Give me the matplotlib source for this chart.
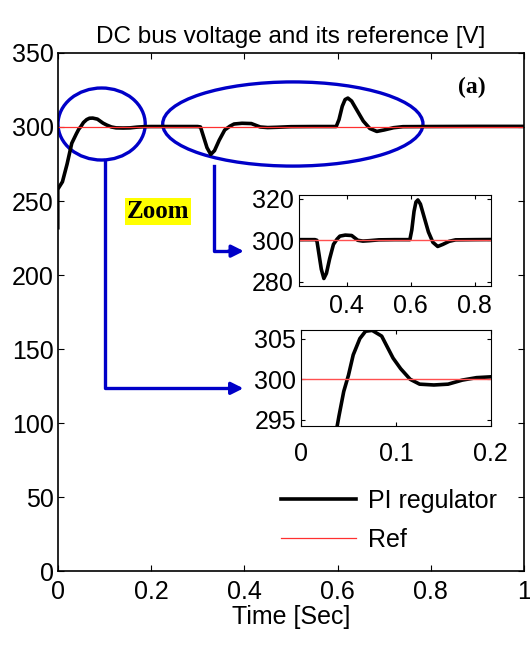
import matplotlib.pyplot as plt
from matplotlib.patches import Ellipse

plt.rcParams['font.family'] = ['Liberation Sans', 'DejaVu Sans']

# PI regulator response (time in s, voltage in V)
t_pi = [0.0, 0.0, 0.002, 0.01, 0.02, 0.03, 0.04, 0.045, 0.05, 0.055, 0.062, 0.068,
        0.075, 0.085, 0.097, 0.105, 0.115, 0.125, 0.14, 0.155, 0.17, 0.185, 0.2,
        0.25, 0.3, 0.306, 0.312, 0.32, 0.328, 0.336, 0.346, 0.358, 0.369, 0.378,
        0.395, 0.415, 0.434, 0.45, 0.47, 0.5, 0.55, 0.597, 0.603, 0.61, 0.616,
        0.622, 0.63, 0.642, 0.655, 0.669, 0.684, 0.7, 0.72, 0.74, 0.8, 0.9, 1.0]
v_pi = [232, 258, 259, 263, 275, 289, 295.5, 298.5, 300.5, 303, 305, 305.9,
        306, 305.3, 302.6, 301.3, 300, 299.4, 299.3, 299.4, 299.9, 300.2, 300.3,
        300.3, 300.3, 300, 294, 286, 281.5, 284, 291, 298, 300.5, 302,
        302.5, 302.3, 300, 299.6, 299.8, 300.2, 300.3, 300.3, 305, 314, 318.5,
        319.5, 317.5, 311, 304, 299, 297, 298, 299.5, 300.2, 300.3, 300.4, 300.4]
t_ref = [0.0, 1.0]
v_ref = [300, 300]

fs = 18

fig = plt.figure(figsize=(5.3, 6.45), dpi=100)
ax = fig.add_axes([0.109, 0.114, 0.880, 0.804])

ax.plot(t_pi, v_pi, color='black', lw=2.6, label='PI regulator')
ax.plot(t_ref, v_ref, color='#ff3030', lw=0.9, label='Ref')
ax.set_xlim(0, 1)
ax.set_ylim(0, 350)
ax.set_xticks([0, 0.2, 0.4, 0.6, 0.8, 1])
ax.set_xticklabels(['0', '0.2', '0.4', '0.6', '0.8', '1'])
ax.set_yticks(range(0, 351, 50))
ax.tick_params(direction='in', top=True, right=True, labelsize=fs, length=4)
ax.tick_params(axis='x', pad=6)
ax.tick_params(axis='y', pad=3)
ax.set_title('DC bus voltage and its reference [V]', fontsize=17.5, pad=7)
ax.set_xlabel('Time [Sec]', fontsize=fs, labelpad=1)
for s in ax.spines.values():
    s.set_linewidth(1.2)

ax.legend(loc='lower right', bbox_to_anchor=(0.99, -0.005), frameon=False,
          fontsize=fs, handlelength=3.0, labelspacing=0.6, handletextpad=0.5)

# annotations
blue = '#0000c8'
ax.add_patch(Ellipse((0.094, 302), 0.187, 48.6, fill=False, ec=blue, lw=2.4))
ax.add_patch(Ellipse((0.504, 302), 0.558, 56.8, fill=False, ec=blue, lw=2.4))
ax.plot([0.101, 0.101, 0.37], [277.7, 123.6, 123.6], color=blue, lw=2.4)
ax.annotate('', xy=(0.404, 123.6), xytext=(0.36, 123.6),
            arrowprops=dict(arrowstyle='-|>', color=blue, lw=2.4, mutation_scale=18))
ax.plot([0.335, 0.335, 0.37], [273.6, 216.2, 216.2], color=blue, lw=2.4)
ax.annotate('', xy=(0.405, 216.2), xytext=(0.36, 216.2),
            arrowprops=dict(arrowstyle='-|>', color=blue, lw=2.4, mutation_scale=18))

ax.text(0.215, 243, 'Zoom', fontsize=18, fontweight='bold', family='Liberation Serif',
        ha='center', va='center', bbox=dict(boxstyle='square,pad=0.07', fc='yellow', ec='none'))
ax.text(0.918, 327, '(a)', fontsize=17, fontweight='bold', family='Liberation Serif',
        ha='right', va='center')

# inset 1: load disturbances
ax1 = fig.add_axes([0.564, 0.557, 0.362, 0.141])
ax1.plot(t_pi, v_pi, color='black', lw=2.6)
ax1.plot(t_ref, v_ref, color='#ff5050', lw=1.0)
ax1.set_xlim(0.25, 0.85)
ax1.set_ylim(278, 322)
ax1.set_xticks([0.4, 0.6, 0.8])
ax1.set_yticks([280, 300, 320])
ax1.tick_params(direction='in', top=True, right=True, labelsize=fs, length=3)
ax1.tick_params(axis='x', pad=6)

# inset 2: start-up
ax2 = fig.add_axes([0.568, 0.340, 0.358, 0.149])
ax2.plot(t_pi, v_pi, color='black', lw=2.6)
ax2.plot(t_ref, v_ref, color='#ff5050', lw=1.0)
ax2.set_xlim(0, 0.2)
ax2.set_ylim(294.3, 306.1)
ax2.set_xticks([0, 0.1, 0.2])
ax2.set_xticklabels(['0', '0.1', '0.2'])
ax2.set_yticks([295, 300, 305])
ax2.tick_params(direction='in', top=True, right=True, labelsize=fs, length=3)
ax2.tick_params(axis='x', pad=12)

fig.savefig('out.png', dpi=100)
